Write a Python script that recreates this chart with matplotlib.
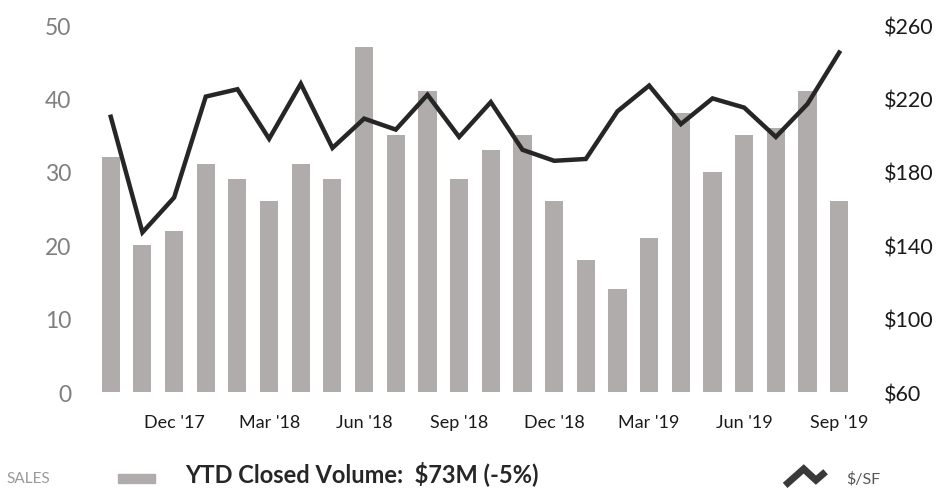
import numpy as np
import matplotlib
matplotlib.use("Agg")
from matplotlib import pyplot as plt
from matplotlib.lines import Line2D
from matplotlib.patches import Rectangle

months = ["Oct '17", "Nov '17", "Dec '17", "Jan '18", "Feb '18", "Mar '18",
          "Apr '18", "May '18", "Jun '18", "Jul '18", "Aug '18", "Sep '18",
          "Oct '18", "Nov '18", "Dec '18", "Jan '19", "Feb '19", "Mar '19",
          "Apr '19", "May '19", "Jun '19", "Jul '19", "Aug '19", "Sep '19"]
sales = [32, 20, 22, 31, 29, 26, 31, 29, 47, 35, 41, 29,
         33, 35, 26, 18, 14, 21, 38, 30, 35, 36, 41, 26]
price_sf = [210, 147, 166, 221, 225, 198, 228, 193, 209, 203, 222, 199,
            218, 192, 186, 187, 213, 227, 206, 220, 215, 199, 217, 245]
tick_idx = [2, 5, 8, 11, 14, 17, 20, 23]
left_ticks = [0, 10, 20, 30, 40, 50]
right_ticks = [60, 100, 140, 180, 220, 260]

plt.rcParams['font.family'] = ['Lato', 'DejaVu Sans']

BAR = '#b0acab'
LINE = '#262626'

fig = plt.figure(figsize=(9.4, 4.89), dpi=100)
ax = fig.add_axes([0.101, 0.1963, 0.8086, 0.7505])
x = np.arange(len(months))
ax.bar(x, sales, width=0.57, color=BAR, zorder=1)
ax.set_xlim(-0.5, len(months) - 0.5)
ax.set_ylim(0, 50)
ax.set_yticks(left_ticks)
ax.tick_params(axis='y', length=0, pad=17, labelsize=16.5, labelcolor='#7f7f7f')
ax.set_xticks(tick_idx)
ax.set_xticklabels([months[i] for i in tick_idx])
ax.tick_params(axis='x', length=0, pad=16, labelsize=13, labelcolor='#1a1a1a')
for s in ax.spines.values():
    s.set_visible(False)

ax2 = ax.twinx()
ax2.plot(x, price_sf, color=LINE, lw=3.2, solid_joinstyle='miter', zorder=3)
ax2.set_ylim(60, 260)
ax2.set_yticks(right_ticks)
ax2.set_yticklabels(['$%d' % v for v in right_ticks])
ax2.tick_params(axis='y', length=0, pad=21, labelsize=15.5, labelcolor='#1a1a1a')
for s in ax2.spines.values():
    s.set_visible(False)

# legend row at the bottom
fig.text(0.007, 0.012, 'SALES', fontsize=11, color='#9a9a9a', va='baseline')
fig.patches.append(Rectangle((0.1255, 0.01), 0.0395, 0.019, transform=fig.transFigure,
                             color=BAR, figure=fig))
fig.text(0.197, 0.014, 'YTD Closed Volume:  $73M (-5%)', fontsize=17,
         fontweight='bold', color='#262626', va='baseline')
fig.lines.append(Line2D([0.838, 0.855, 0.868, 0.8755], [0.010, 0.039, 0.016, 0.0285],
                        transform=fig.transFigure, color='#3a3a3a', lw=5,
                        solid_joinstyle='miter', figure=fig))
fig.text(0.900, 0.012, '$/SF', fontsize=11.5, color='#555555', va='baseline')

fig.savefig('out.png', dpi=100)
